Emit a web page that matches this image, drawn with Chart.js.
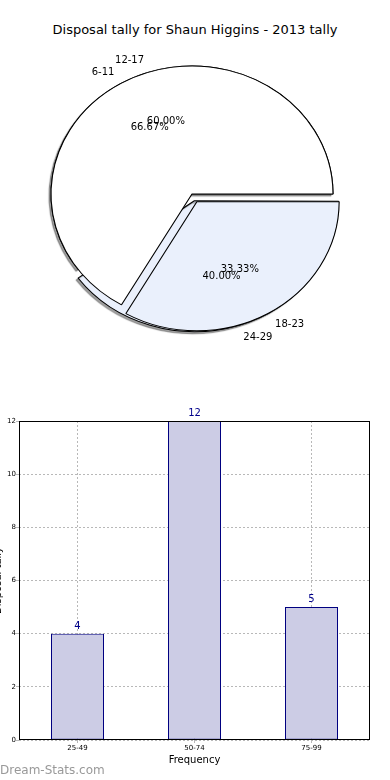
<!DOCTYPE html>
<html><head><meta charset="utf-8">
<script src="https://cdn.jsdelivr.net/npm/chart.js@4/dist/chart.umd.min.js"></script>
<style>
html,body{margin:0;padding:0;background:#fff;width:390px;height:780px;overflow:hidden;position:relative;font-family:'DejaVu Sans',sans-serif}
#title{position:absolute;left:0;top:21px;width:390px;text-align:center;font-size:13px;line-height:18px;color:#000;white-space:nowrap}
#pieB,#pieA{position:absolute;left:0;top:0}
#bar{position:absolute;left:-8px;top:390px}
#wm{position:absolute;left:0;top:762px;font-size:12px;color:#999;line-height:16px;white-space:nowrap}
</style></head><body>
<div id="title"></div>
<canvas id="pieB" width="390" height="390"></canvas>
<canvas id="pieA" width="390" height="390"></canvas>
<canvas id="bar" width="398" height="390"></canvas>
<div id="wm"></div>
<script>
// ---- data ----
const pieTitle = 'Disposal tally for Shaun Higgins - 2013 tally';
const pie1Labels = ['6-11', '18-23'];
const pie1Values = [66.67, 33.33];
const pie2Labels = ['12-17', '24-29'];
const pie2Values = [60.00, 40.00];
const barCategories = ['25-49', '50-74', '75-99'];
const barValues = [4, 12, 5];
const barYTicks = [0, 2, 4, 6, 8, 10, 12];
const xTitle = 'Frequency';
const yTitle = 'Disposal tally';
const watermark = 'Dream-Stats.com';

// ---- styles ----
const PIE_COLORS = ['#ffffff', '#eaf0fc'];
const EXPLODE = [0, 10];
const PIE_R = 128;
const SX = 141 / 128;
const GRID = '#b8b8b8';

document.getElementById('title').textContent = pieTitle;
document.getElementById('wm').textContent = watermark;
Chart.defaults.font.family = "'DejaVu Sans', sans-serif";

const ellipsePlugin = {
  id: 'ellipse',
  beforeDatasetsDraw(chart) {
    const ctx = chart.ctx, a = chart.chartArea, cx = (a.left + a.right) / 2;
    ctx.save();
    ctx.translate(cx, 0); ctx.scale(SX, 1); ctx.translate(-cx, 0);
    if (chart.options.plugins.ellipse && chart.options.plugins.ellipse.shadow) {
      ctx.shadowColor = 'rgba(0,0,0,0.38)';
      ctx.shadowOffsetX = -2; ctx.shadowOffsetY = 2; ctx.shadowBlur = 1;
    }
  },
  afterDatasetsDraw(chart) { chart.ctx.restore(); }
};

function pieConfig(labels, values, shadow, extra) {
  const sum = values.reduce((a, b) => a + b, 0);
  const offsets = values.map((v, i) => {
    const circ = 2 * Math.PI * v / sum;
    const fix = 1 - Math.sin(Math.min(Math.PI, circ));
    return EXPLODE[i] * 4 / (1 + fix);
  });
  return {
    type: 'pie',
    data: { labels: labels, datasets: [{ data: values, backgroundColor: PIE_COLORS, borderColor: '#000', borderWidth: 1, offset: offsets, hoverOffset: 0 }] },
    options: {
      responsive: false, animation: false, events: [],
      radius: PIE_R,
      rotation: 90 - 360 * values[0] / sum,
      layout: { padding: { left: 0, right: 6, top: 0, bottom: 2 } },
      plugins: { legend: { display: false }, tooltip: { enabled: false }, title: { display: false }, ellipse: { shadow: shadow } }
    },
    plugins: [ellipsePlugin].concat(extra || [])
  };
}

function drawPieLabels(ctx, chart, labels) {
  const meta = chart.getDatasetMeta(0);
  const a = chart.chartArea, cx = (a.left + a.right) / 2;
  const vals = chart.data.datasets[0].data;
  const sum = vals.reduce((p, q) => p + q, 0);
  ctx.save();
  ctx.fillStyle = '#000';
  ctx.font = "10px 'DejaVu Sans', sans-serif";
  meta.data.forEach((arc, i) => {
    const p = arc.getProps(['x', 'y', 'startAngle', 'endAngle', 'outerRadius', 'circumference'], true);
    const mid = (p.startAngle + p.endAngle) / 2;
    const off = (arc.options.offset || 0) / 4;
    const fix = 1 - Math.sin(Math.min(Math.PI, p.circumference));
    const d = off * (1 + fix);
    const ox = p.x + Math.cos(mid) * d, oy = p.y + Math.sin(mid) * d;
    const tx = r => cx + (ox + Math.cos(mid) * r - cx) * SX;
    const ty = r => oy + Math.sin(mid) * r;
    ctx.textAlign = 'center'; ctx.textBaseline = 'middle';
    ctx.fillText((vals[i] / sum * 100).toFixed(2) + '%', tx(0.6 * p.outerRadius), ty(0.6 * p.outerRadius));
    ctx.textAlign = Math.cos(mid) > 0 ? 'left' : 'right';
    ctx.fillText(labels[i], tx(1.1 * p.outerRadius), ty(1.1 * p.outerRadius));
  });
  ctx.restore();
}

const pieB = new Chart(document.getElementById('pieB'), pieConfig(pie2Labels, pie2Values, true));
const labelPlugin = {
  id: 'pieLabels',
  afterDraw(chart) {
    drawPieLabels(chart.ctx, pieB, pie2Labels);
    drawPieLabels(chart.ctx, chart, pie1Labels);
  }
};
const pieA = new Chart(document.getElementById('pieA'), pieConfig(pie1Labels, pie1Values, false, [labelPlugin]));

// ---- bar chart ----
const framePlugin = {
  id: 'frame',
  afterDraw(chart) {
    const ctx = chart.ctx, a = chart.chartArea;
    ctx.save();
    ctx.strokeStyle = '#000'; ctx.lineWidth = 1;
    ctx.strokeRect(Math.round(a.left) + 0.5, Math.round(a.top) + 0.5, Math.round(a.right - a.left) - 1, Math.round(a.bottom - a.top) - 1);
    const meta = chart.getDatasetMeta(0);
    ctx.fillStyle = '#00008b';
    ctx.font = "10px 'DejaVu Sans', sans-serif";
    ctx.textAlign = 'center'; ctx.textBaseline = 'alphabetic';
    meta.data.forEach((bar, i) => {
      ctx.fillText(String(barValues[i]), bar.x, bar.y - 5);
    });
    ctx.restore();
  }
};

new Chart(document.getElementById('bar'), {
  type: 'bar',
  data: { labels: barCategories, datasets: [{ data: barValues, backgroundColor: '#ccccE5', borderColor: '#000080', borderWidth: 1, borderSkipped: false, barPercentage: 53 / 117, categoryPercentage: 1 }] },
  options: {
    responsive: false, animation: false, events: [],
    layout: { padding: { top: 31, right: 20, left: 0, bottom: 0 } },
    plugins: { legend: { display: false }, tooltip: { enabled: false } },
    scales: {
      x: {
        z: 1,
        grid: { offset: false, color: GRID, tickLength: 3, tickColor: GRID },
        border: { display: false, dash: [2, 2] },
        ticks: { font: { size: 7 }, color: '#000', padding: 1, maxRotation: 0 },
        title: { display: true, text: xTitle, font: { size: 10 }, color: '#000', padding: { top: 0, bottom: 14 } },
        afterFit(s) { s.height = 40; }
      },
      y: {
        z: 1,
        min: barYTicks[0], max: barYTicks[barYTicks.length - 1],
        ticks: { stepSize: barYTicks[1] - barYTicks[0], font: { size: 7 }, color: '#000', padding: 0 },
        grid: { color: GRID, tickLength: 3, tickColor: GRID },
        border: { display: false, dash: [2, 2] },
        title: { display: true, text: yTitle, font: { size: 10 }, color: '#000', padding: { top: 0, bottom: 0 } },
        afterFit(s) { s.width = 27; }
      }
    }
  },
  plugins: [framePlugin]
});
</script>
</body></html>
